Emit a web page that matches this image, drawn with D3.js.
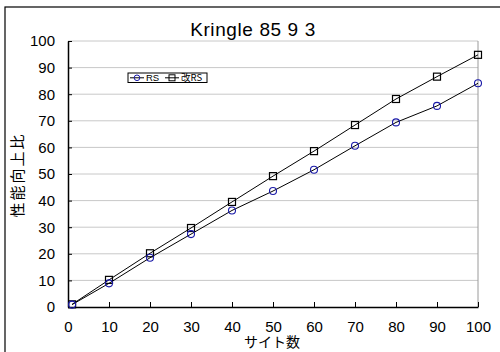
<!DOCTYPE html>
<html>
<head>
<meta charset="utf-8">
<script src="https://cdn.jsdelivr.net/npm/d3@7"></script>
<style>
  body { margin: 0; background: #fff; }
  svg text { font-family: "Liberation Sans", Arial, "Noto Sans CJK JP", sans-serif; fill: #000; }
  .jp { font-family: "Noto Sans CJK JP", sans-serif; }
</style>
</head>
<body>
<div id="chart"></div>
<script>
var sites = [1, 10, 20, 30, 40, 50, 60, 70, 80, 90, 100];
var rsValues = [0.9, 8.9, 18.5, 27.4, 36.3, 43.6, 51.6, 60.6, 69.4, 75.6, 84.1];
var kaiRsValues = [1.0, 10.2, 20.2, 29.7, 39.5, 49.2, 58.6, 68.4, 78.2, 86.6, 94.8];
var seriesNames = ["RS", "改RS"];
var tickValues = [0, 10, 20, 30, 40, 50, 60, 70, 80, 90, 100];

var svg = d3.select("#chart").append("svg")
            .attr("width", 500)
            .attr("height", 352);

// outer frame (runs off the picture at right and bottom)
svg.append("rect")
   .attr("x", 5).attr("y", 7)
   .attr("width", 520).attr("height", 370)
   .attr("fill", "white")
   .attr("stroke", "#000")
   .attr("stroke-width", 1.2);

var x = d3.scaleLinear().domain([0, 100]).range([68, 478]);
var y = d3.scaleLinear().domain([0, 100]).range([307, 41]);

// grid lines
svg.append("g").selectAll("line")
   .data(tickValues.slice(1))
   .enter().append("line")
   .attr("x1", x(0)).attr("x2", x(100))
   .attr("y1", function (d) { return y(d); })
   .attr("y2", function (d) { return y(d); })
   .attr("stroke", "#c8c8c8")
   .attr("stroke-width", 1);

// right border of plot area
svg.append("line")
   .attr("x1", x(100)).attr("x2", x(100))
   .attr("y1", y(100)).attr("y2", y(0))
   .attr("stroke", "#9a9a9a");

// axes
var xAxis = d3.axisBottom(x).tickValues(tickValues).tickSizeInner(-5).tickSizeOuter(0).tickPadding(14);
var yAxis = d3.axisLeft(y).tickValues(tickValues).tickSizeInner(-4).tickSizeOuter(0).tickPadding(13);

var gx = svg.append("g").attr("transform", "translate(0," + y(0) + ")").call(xAxis);
var gy = svg.append("g").attr("transform", "translate(" + x(0) + ",0)").call(yAxis);

[gx, gy].forEach(function (g) {
  g.select(".domain").attr("stroke", "#000").attr("stroke-width", 1.5);
  g.selectAll(".tick line").attr("stroke", "#000");
  g.selectAll(".tick text")
   .attr("font-size", "15px")
   .attr("font-family", "Liberation Sans, Arial, sans-serif")
   .attr("fill", "#000");
});

// lines
var line = d3.line()
             .x(function (d) { return x(d[0]); })
             .y(function (d) { return y(d[1]); });

var rsData = sites.map(function (s, i) { return [s, rsValues[i]]; });
var kaiData = sites.map(function (s, i) { return [s, kaiRsValues[i]]; });

svg.append("path").datum(kaiData)
   .attr("d", line).attr("fill", "none").attr("stroke", "#000").attr("stroke-width", 1);
svg.append("path").datum(rsData)
   .attr("d", line).attr("fill", "none").attr("stroke", "#000").attr("stroke-width", 1);

// markers
svg.append("g").selectAll("rect")
   .data(kaiData)
   .enter().append("rect")
   .attr("x", function (d) { return x(d[0]) - 3.5; })
   .attr("y", function (d) { return y(d[1]) - 3.5; })
   .attr("width", 7).attr("height", 7)
   .attr("fill", "none")
   .attr("stroke", "#000")
   .attr("stroke-width", 1.2);

svg.append("g").selectAll("circle")
   .data(rsData)
   .enter().append("circle")
   .attr("cx", function (d) { return x(d[0]); })
   .attr("cy", function (d) { return y(d[1]); })
   .attr("r", 3.5)
   .attr("fill", "none")
   .attr("stroke", "#1a1aa8")
   .attr("stroke-width", 1.1);

// title
svg.append("text")
   .attr("x", 253).attr("y", 36)
   .attr("text-anchor", "middle")
   .attr("font-size", "19px")
   .attr("letter-spacing", "0.6px")
   .attr("font-family", "Liberation Sans, Arial, sans-serif")
   .text("Kringle 85 9 3");

// axis titles
svg.append("text")
   .attr("class", "jp")
   .attr("x", 272).attr("y", 347)
   .attr("text-anchor", "middle")
   .attr("font-size", "14px")
   .text("サイト数");

svg.append("text")
   .attr("class", "jp")
   .attr("transform", "translate(23,175) rotate(-90)")
   .attr("text-anchor", "middle")
   .attr("font-size", "15px")
   .attr("letter-spacing", "2px")
   .text("性能向上比");

// legend
var legend = svg.append("g").attr("transform", "translate(128,73)");
legend.append("rect")
      .attr("width", 79).attr("height", 9.5)
      .attr("fill", "white")
      .attr("stroke", "#000")
      .attr("stroke-width", 1);

var legX = [2, 37];
seriesNames.forEach(function (name, i) {
  var lg = legend.append("g").attr("transform", "translate(" + legX[i] + ",4.8)");
  lg.append("line").attr("x1", 0).attr("x2", 14).attr("stroke", "#000");
  if (i === 0) {
    lg.append("circle").attr("cx", 7).attr("r", 2.8)
      .attr("fill", "none").attr("stroke", "#1a1aa8");
  } else {
    lg.append("rect").attr("x", 4).attr("y", -3).attr("width", 6).attr("height", 6)
      .attr("fill", "none").attr("stroke", "#000");
  }
  lg.append("text")
    .attr("class", i === 1 ? "jp" : null)
    .attr("x", 16).attr("y", 3.5)
    .attr("font-size", "9.5px")
    .text(name);
});
</script>
</body>
</html>
